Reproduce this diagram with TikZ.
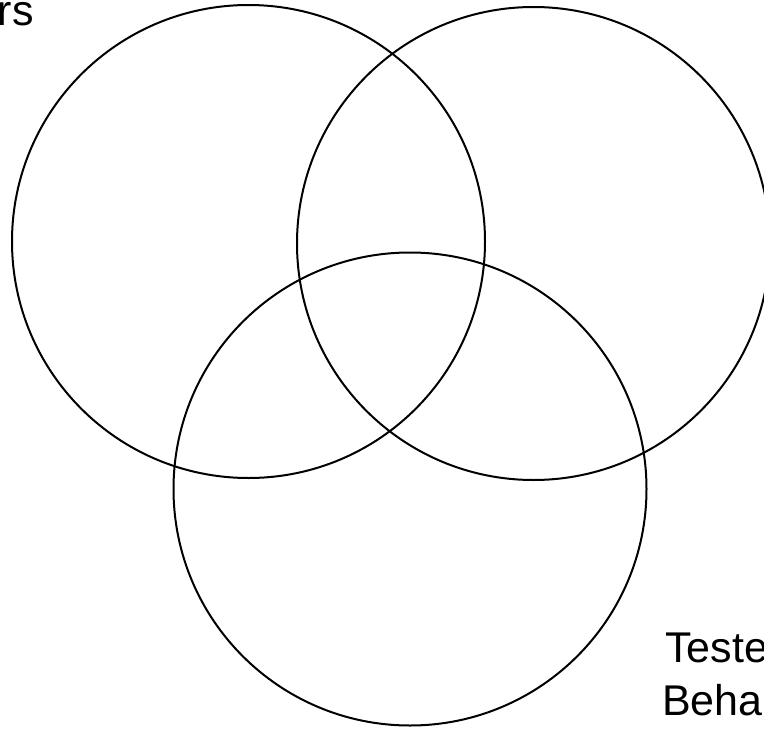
\documentclass[tikz,border=0pt]{standalone}
\usepackage{fontspec}
\setmainfont{Liberation Sans}
\begin{document}
\begin{tikzpicture}[x=1pt,y=-1pt,
  s/.style={circle,draw,line width=2pt,inner sep=0,minimum size=473pt},
  t/.style={inner sep=0,font=\fontsize{43}{50}\selectfont}]
\useasboundingbox (0,0) rectangle (764,731);
\node[s] (a) at (248.5,241.5) {};
\node[s] (b) at (533.5,243.5) {};
\node[s] (c) at (410,489) {};
\node[t,anchor=base east] (u) at (34,25) {rs};
\node[t,anchor=base west] (d1) at (665,662) {Teste};
\node[t,anchor=base west] (d2) at (662,715) {Beha};
\end{tikzpicture}
\end{document}
